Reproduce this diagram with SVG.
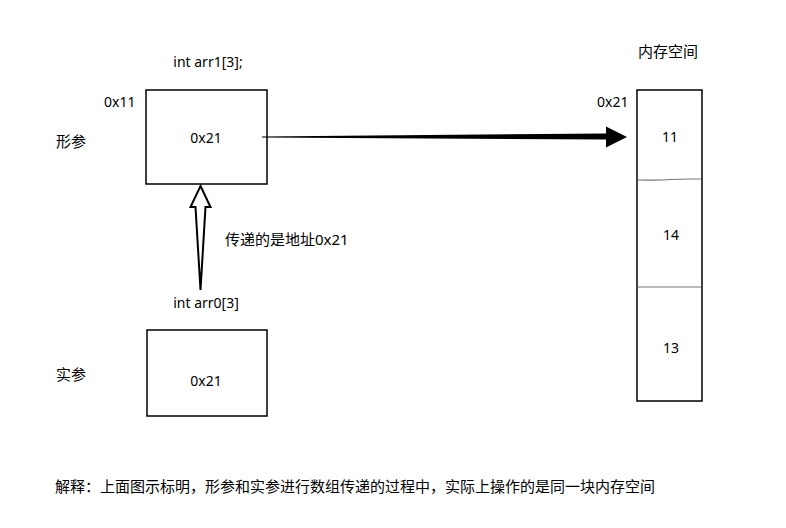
<svg xmlns="http://www.w3.org/2000/svg" width="786" height="528" viewBox="0 0 786 528">
<style>
text{font-family:"Noto Sans","Noto Sans CJK SC",sans-serif;fill:#000;font-size:14px}
.cjk{font-size:15px}
.box{fill:#fff;stroke:#000;stroke-width:1.5}
.div{fill:none;stroke:#777;stroke-width:1.2}
</style>
<rect width="786" height="528" fill="#fff"/>
<g id="formal">
<text x="208" y="67" text-anchor="middle">int arr1[3];</text>
<text x="104" y="107">0x11</text>
<text x="56" y="147" class="cjk">形参</text>
<rect class="box" x="146" y="90" width="121" height="94"/>
<text x="206" y="143" text-anchor="middle">0x21</text>
</g>
<g id="actual">
<text x="206" y="308" text-anchor="middle">int arr0[3]</text>
<text x="56" y="380" class="cjk">实参</text>
<rect class="box" x="147" y="330" width="120" height="86"/>
<text x="206" y="386" text-anchor="middle">0x21</text>
</g>
<g id="memory">
<text x="668" y="57" text-anchor="middle" class="cjk">内存空间</text>
<text x="597" y="107">0x21</text>
<rect class="box" x="637" y="90" width="65" height="311"/>
<path class="div" d="M638,180 C650,180 660,180.5 670,179.5 C680,178.8 690,179 701,179"/>
<line class="div" x1="638" y1="287" x2="701" y2="287"/>
<text x="670" y="142" text-anchor="middle">11</text>
<text x="671" y="240" text-anchor="middle">14</text>
<text x="671" y="353" text-anchor="middle">13</text>
</g>
<g id="connectors">
<path d="M262,136.5 L606,133.5 L606,126.5 L627,137 L606,147.5 L606,139.5 L262,137.5 Z" fill="#000"/>
<path d="M200.5,186 L210.5,207 L205.5,207 L200.5,290 L195.5,207 L190.5,207 Z" fill="#fff" stroke="#000" stroke-width="2" stroke-linejoin="miter"/>
<text x="225" y="245" class="cjk">传递的是地址0x21</text>
</g>
<text x="55" y="492" class="cjk">解释：上面图示标明，形参和实参进行数组传递的过程中，实际上操作的是同一块内存空间</text>
</svg>
